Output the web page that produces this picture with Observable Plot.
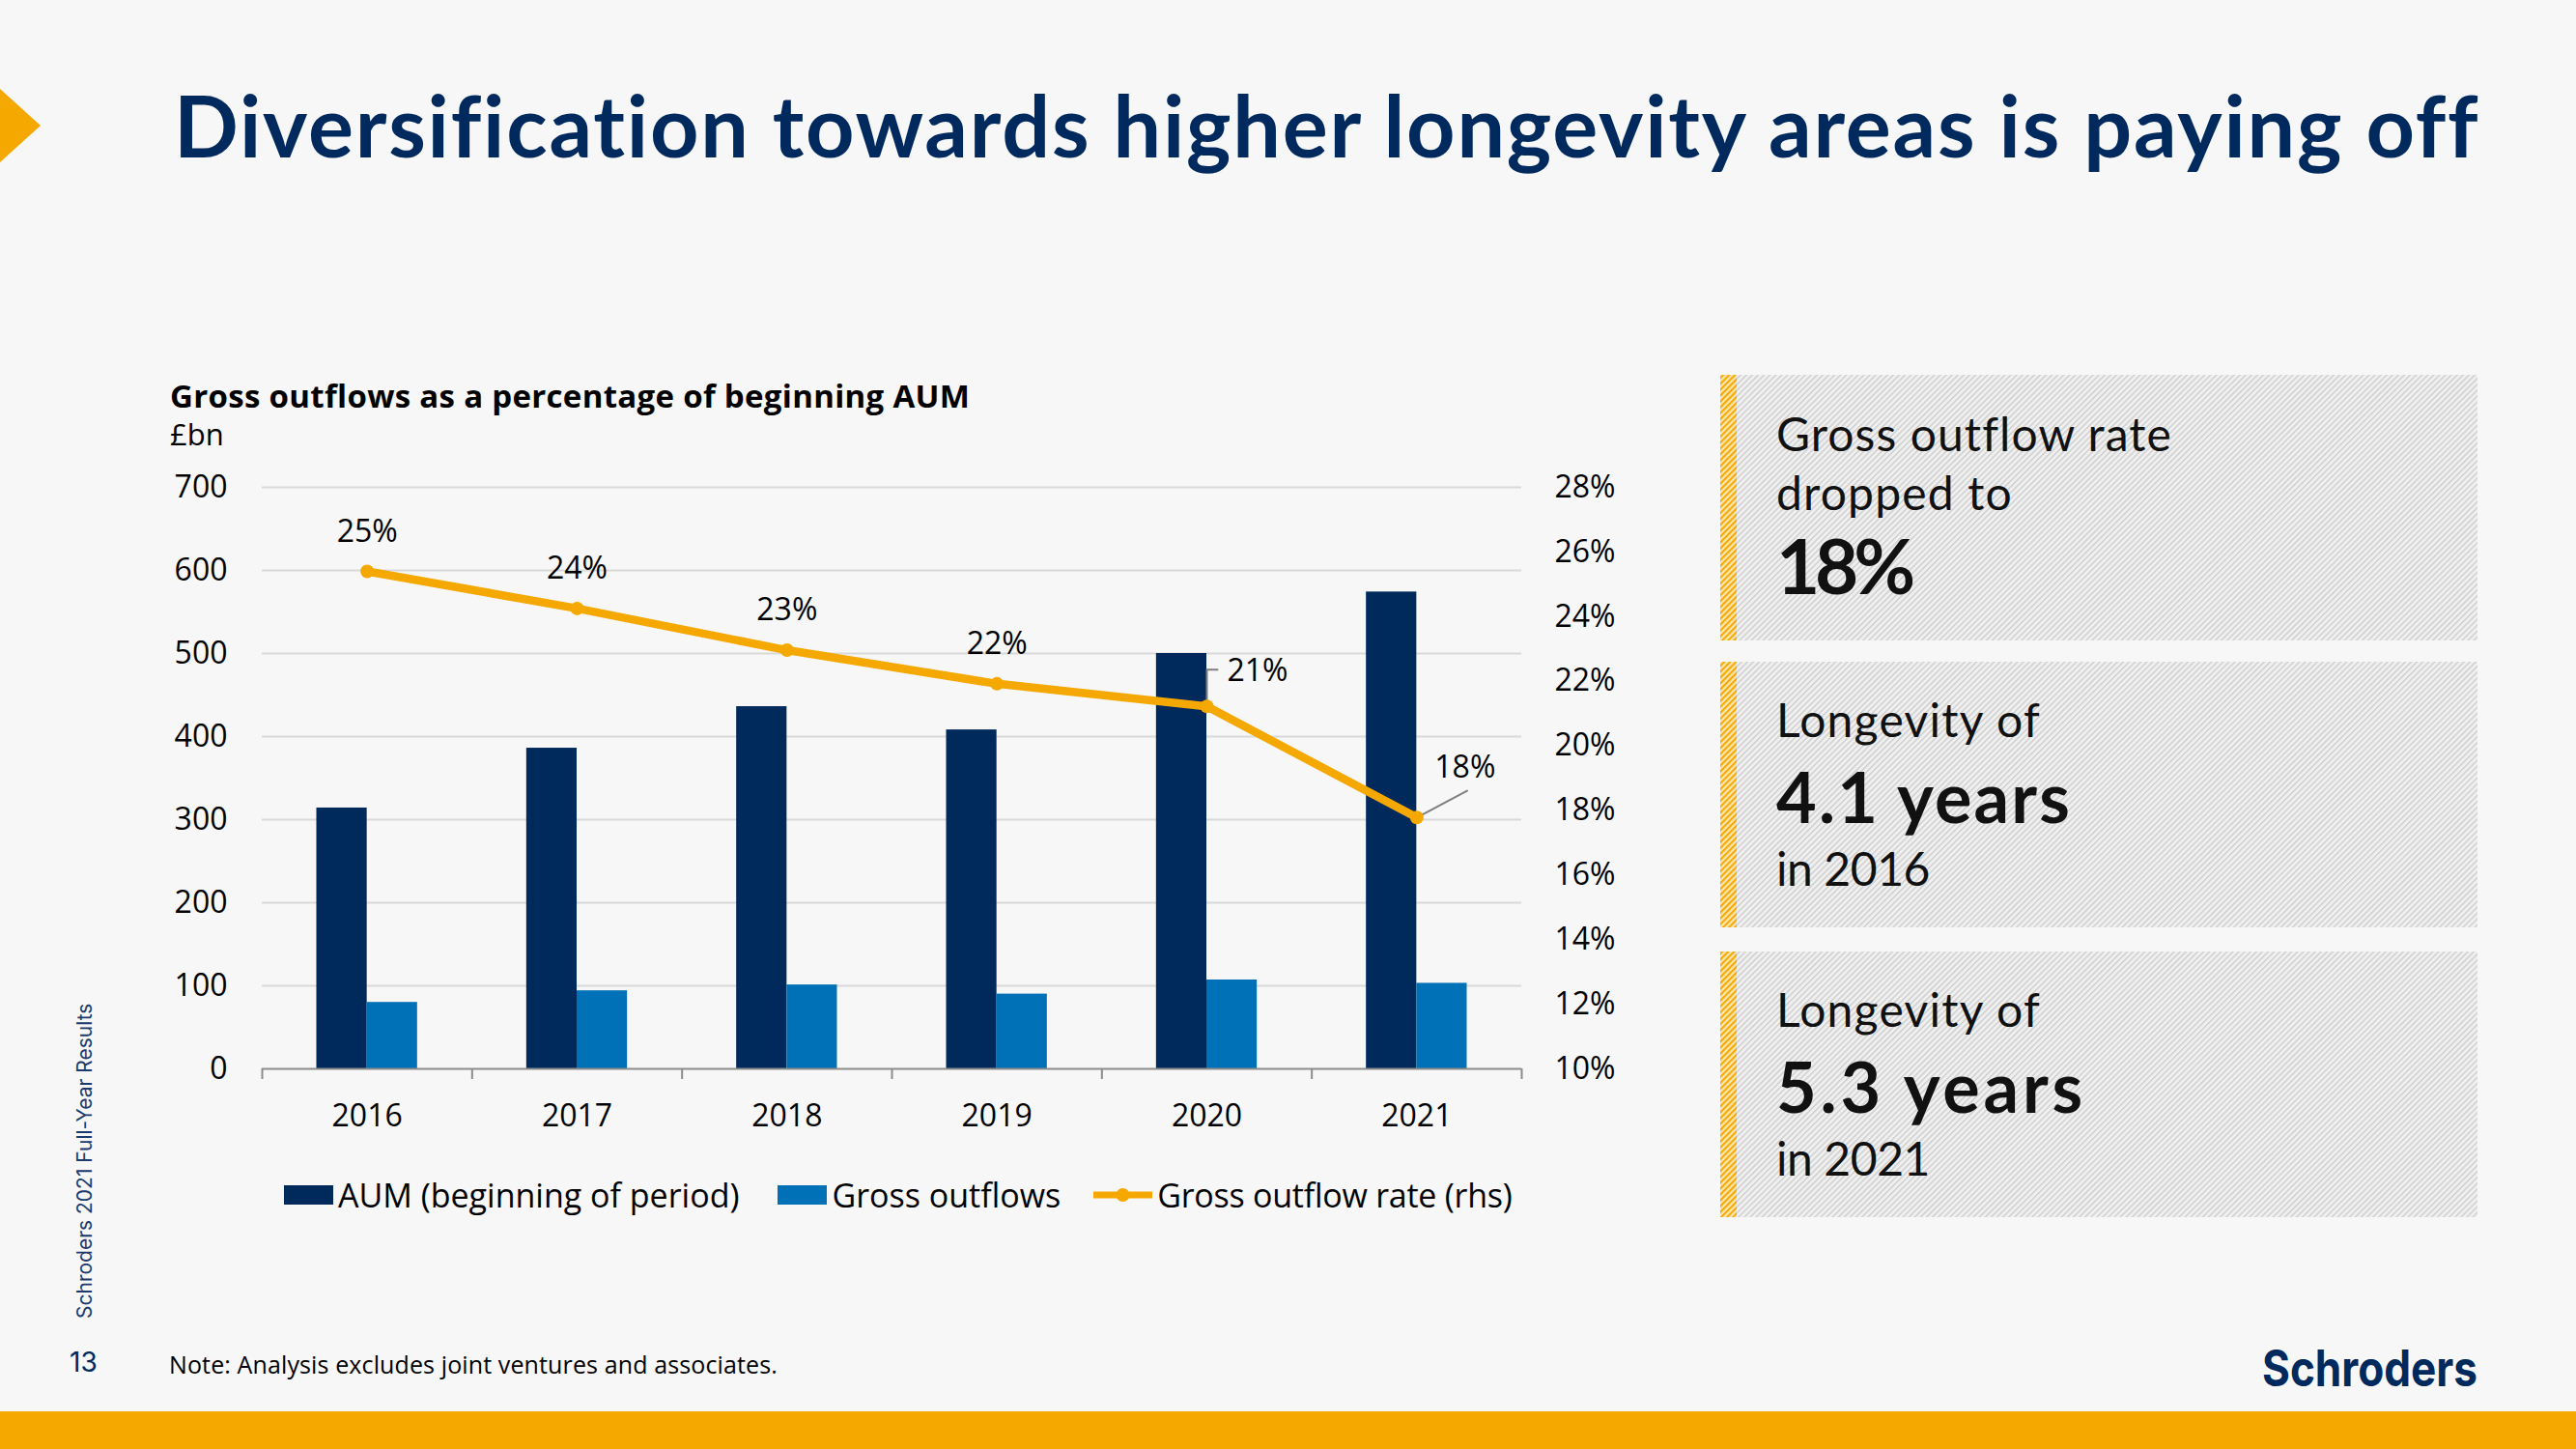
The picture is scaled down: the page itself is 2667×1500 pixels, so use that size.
<!DOCTYPE html>
<html>
<head>
<meta charset="utf-8">
<script src="https://cdn.jsdelivr.net/npm/d3@7"></script>
<script src="https://cdn.jsdelivr.net/npm/@observablehq/plot@0.6"></script>
<style>
html, body { margin: 0; padding: 0; background: #f7f7f7; }
body { width: 2667px; height: 1500px; position: relative; overflow: hidden; font-family: "Open Sans", sans-serif; }
#deco { position: absolute; left: 0; top: 0; }
#chart { position: absolute; left: 0; top: 460px; }
#legend { position: absolute; left: 294px; top: 1212px; height: 50px; display: flex; align-items: center; font-family: "Open Sans", sans-serif; font-size: 34px; color: #000; white-space: nowrap; }
#legend .item { display: flex; align-items: center; margin-right: 40px; }
#legend .item:nth-child(2) { margin-right: 34px; }
#legend .item:last-child { margin-right: 0; letter-spacing: -0.25px; }
#legend .sw { margin-right: 5px; display: block; }
</style>
</head>
<body>
<svg id="deco" width="2667" height="1500"></svg>
<div id="chart"></div>
<div id="legend"></div>
<script>
// ---------- data ----------
const years = [2016, 2017, 2018, 2019, 2020, 2021];
const aum = [314, 386, 436, 408, 500, 574];
const outflows = [80, 94, 101, 90, 107, 103];
const outflowRate = [25.4, 24.25, 22.96, 21.92, 21.22, 17.78];
const rateLabels = ["25%", "24%", "23%", "22%", "21%", "18%"];
const leftTicks = [0, 100, 200, 300, 400, 500, 600, 700];
const rightTicks = [10, 12, 14, 16, 18, 20, 22, 24, 26, 28];
const seriesNames = ["AUM (beginning of period)", "Gross outflows", "Gross outflow rate (rhs)"];
const seriesColors = ["#002a5c", "#0071b6", "#f5a800"];

const titleText = "Diversification towards higher longevity areas is paying off";
const subtitleText = "Gross outflows as a percentage of beginning AUM";
const unitText = "£bn";
const noteText = "Note: Analysis excludes joint ventures and associates.";
const sideText = "Schroders 2021 Full-Year Results";
const pageNumber = "13";
const logoText = "Schroders";
const panelLines = [
  [["Gross outflow rate", false], ["dropped to", false], ["18%", true]],
  [["Longevity of", false], ["4.1 years", true], ["in 2016", false]],
  [["Longevity of", false], ["5.3 years", true], ["in 2021", false]]
];

// ---------- chart ----------
const aumMax = leftTicks[leftTicks.length - 1];
const rateMin = rightTicks[0], rateMax = rightTicks[rightTicks.length - 1];
const toY = r => (r - rateMin) / (rateMax - rateMin) * aumMax;
const fromY = v => v / aumMax * (rateMax - rateMin) + rateMin;

const data = years.map((year, i) => ({year, aum: aum[i], outflows: outflows[i], rate: outflowRate[i], label: rateLabels[i], i}));
const boundaries = years.map(y => y - 0.5).concat([years[years.length - 1] + 0.5]);
const bw = 0.24;

const elbow = {draw(ctx, l) { ctx.moveTo(0, 0); ctx.lineTo(0, -l); ctx.lineTo(11, -l); }};
const straight = {draw(ctx, l) { ctx.moveTo(0, 0); ctx.lineTo(0, -l); }};

const chart = Plot.plot({
  width: 1760,
  height: 726,
  marginLeft: 271,
  marginRight: 185,
  marginTop: 44,
  marginBottom: 80,
  style: {fontFamily: "Open Sans", fontSize: "32px", color: "#000", background: "transparent", overflow: "visible"},
  x: {type: "linear", domain: [boundaries[0], boundaries[boundaries.length - 1]], axis: null},
  y: {domain: [0, aumMax], axis: null},
  marks: [
    Plot.gridY(leftTicks.slice(1), {stroke: "#d9d9d9", strokeOpacity: 1, strokeWidth: 2}),
    Plot.rectY(data, {x1: d => d.year - bw, x2: "year", y: "aum", fill: seriesColors[0]}),
    Plot.rectY(data, {x1: "year", x2: d => d.year + bw, y: "outflows", fill: seriesColors[1]}),
    Plot.ruleY([0], {stroke: "#8c8c8c", strokeWidth: 2}),
    Plot.axisX(boundaries, {tickSize: 11, tickFormat: () => "", stroke: "#8c8c8c", strokeWidth: 2, label: null}),
    Plot.axisX(years, {tickSize: 0, tickPadding: 37, tickFormat: d => String(d), label: null}),
    Plot.axisY(leftTicks, {tickSize: 0, tickPadding: 36, label: null}),
    Plot.axisY(rightTicks.map(toY), {anchor: "right", tickSize: 0, tickPadding: 34, tickFormat: v => Math.round(fromY(v)) + "%", label: null}),
    Plot.vector(data, {filter: d => d.i === 4, x: "year", y: d => toY(d.rate), length: 38, anchor: "start", shape: elbow, stroke: "#7f7f7f", strokeWidth: 2, fill: "none"}),
    Plot.vector(data, {filter: d => d.i === 5, x: "year", y: d => toY(d.rate), length: 59, rotate: 62, anchor: "start", shape: straight, stroke: "#7f7f7f", strokeWidth: 2, fill: "none"}),
    Plot.line(data, {x: "year", y: d => toY(d.rate), stroke: seriesColors[2], strokeWidth: 8.5}),
    Plot.dot(data, {x: "year", y: d => toY(d.rate), symbol: "circle", r: 7, fill: seriesColors[2], stroke: "none"}),
    Plot.text(data, {filter: d => d.i < 4, x: "year", y: d => toY(d.rate), text: "label", dy: -41, fontSize: 32, fill: "#000"}),
    Plot.text(data, {filter: d => d.i === 4, x: "year", y: d => toY(d.rate), text: "label", dx: 21, dy: -37, textAnchor: "start", fontSize: 32, fill: "#000"}),
    Plot.text(data, {filter: d => d.i === 5, x: "year", y: d => toY(d.rate), text: "label", dx: 50, dy: -52, fontSize: 32, fill: "#000"})
  ]
});
document.getElementById("chart").appendChild(chart);

// ---------- legend ----------
const legend = d3.select("#legend");
seriesNames.forEach((name, i) => {
  const item = legend.append("div").attr("class", "item");
  const sw = item.append("svg").attr("class", "sw").attr("width", i === 2 ? 61 : 51).attr("height", 20);
  if (i < 2) {
    sw.append("rect").attr("width", 51).attr("height", 20).attr("fill", seriesColors[i]);
  } else {
    sw.append("line").attr("x1", 0).attr("x2", 61).attr("y1", 10).attr("y2", 10).attr("stroke", seriesColors[i]).attr("stroke-width", 7);
    sw.append("circle").attr("cx", 30.5).attr("cy", 10).attr("r", 7).attr("fill", seriesColors[i]);
  }
  item.append("span").text(name);
});

// ---------- decorations ----------
const svg = d3.select("#deco");
const defs = svg.append("defs");
const hp = defs.append("pattern").attr("id", "hatch").attr("patternUnits", "userSpaceOnUse")
  .attr("width", 4.3).attr("height", 10).attr("patternTransform", "rotate(45)");
hp.append("rect").attr("width", 4.3).attr("height", 10).attr("fill", "#f0f0f0");
hp.append("rect").attr("width", 1.5).attr("height", 10).attr("fill", "#cfcfcf");
const yp = defs.append("pattern").attr("id", "yhatch").attr("patternUnits", "userSpaceOnUse")
  .attr("width", 4.3).attr("height", 10).attr("patternTransform", "rotate(45)");
yp.append("rect").attr("width", 4.3).attr("height", 10).attr("fill", "#fbe6b0");
yp.append("rect").attr("width", 2).attr("height", 10).attr("fill", "#f5a800");

function fit(sel, target) {
  const n = sel.text().length;
  const w = sel.node().getComputedTextLength();
  sel.attr("letter-spacing", ((target - w) / n).toFixed(2));
}

svg.append("path").attr("d", "M0,92 L42,130 L0,168 Z").attr("fill", "#f5a800");
const title = svg.append("text").attr("x", 180).attr("y", 163)
  .attr("font-family", "Lato").attr("font-weight", 700).attr("font-size", 88).attr("fill", "#002a5e").text(titleText);
fit(title, 2385);

const sub = svg.append("text").attr("x", 176).attr("y", 422).attr("font-family", "Open Sans").attr("font-weight", 700)
  .attr("font-size", 33).attr("fill", "#000").text(subtitleText);
fit(sub, 828);
svg.append("text").attr("x", 176).attr("y", 461).attr("font-family", "Open Sans")
  .attr("font-size", 31).attr("fill", "#000").text(unitText);

const boxTops = [388, 685, 985];
const lineWidths = [[409, 245, 139], [274, 306, 159], [274, 321, 159]];
panelLines.forEach((lines, b) => {
  const top = boxTops[b];
  svg.append("rect").attr("x", 1781).attr("y", top).attr("width", 784).attr("height", 275).attr("fill", "url(#hatch)");
  svg.append("rect").attr("x", 1781).attr("y", top).attr("width", 17).attr("height", 275).attr("fill", "url(#yhatch)");
  const base = b === 0 ? [79, 140, 227] : [78, 167, 232];
  lines.forEach(([txt, bold], k) => {
    const t = svg.append("text").attr("x", 1839).attr("y", top + base[k])
      .attr("font-family", "Lato").attr("font-weight", bold ? 700 : 400)
      .attr("font-size", bold ? (b === 0 ? 78 : 72) : 48).attr("fill", "#111").text(txt);
    fit(t, lineWidths[b][k]);
  });
});

svg.append("text").attr("transform", "translate(95,1365) rotate(-90)").attr("font-family", "Inter")
  .attr("font-size", 21).attr("fill", "#1d3a6c").text(sideText);
svg.append("text").attr("x", 72).attr("y", 1420).attr("font-family", "Inter")
  .attr("font-size", 28).attr("fill", "#002a5e").text(pageNumber);
const note = svg.append("text").attr("x", 175).attr("y", 1422).attr("font-family", "Open Sans")
  .attr("font-size", 25).attr("fill", "#000").text(noteText);
fit(note, 630);
svg.append("text").attr("x", 2342).attr("y", 1435).attr("font-family", "Inter").attr("font-weight", 700)
  .attr("font-size", 52).attr("fill", "#002a5e").attr("textLength", 223).attr("lengthAdjust", "spacingAndGlyphs").text(logoText);
svg.append("rect").attr("x", 0).attr("y", 1461).attr("width", 2667).attr("height", 39).attr("fill", "#f5a800");
</script>
</body>
</html>
